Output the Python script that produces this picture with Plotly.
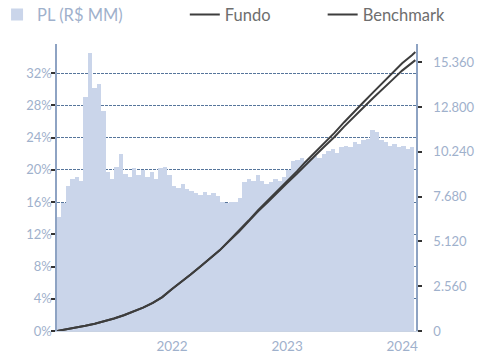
import pandas as pd
import plotly.graph_objects as go

# Patrimônio líquido (R$ MM), amostras quinzenais
pl_start = "2021-01-08"
pl_values = [
    6500, 7300, 8300, 8700, 8800, 8600, 13400, 15900, 13900, 14100,
    12600, 9100, 8700, 9400, 10100, 9000, 8800, 9300, 8900, 9200,
    8800, 9100, 8700, 9300, 9400, 8900, 8300, 8200, 8400, 8100,
    8000, 7900, 7800, 7950, 7800, 7900, 7700, 7400, 7300, 7350,
    7400, 7600, 8500, 8700, 8600, 8900, 8600, 8400, 8500, 8700,
    8600, 8800, 9200, 9700, 9800, 9900, 9700, 9900, 10000, 9900,
    10100, 10300, 10400, 10200, 10500, 10600, 10500, 10800, 10700, 10900,
    11000, 11500, 11400, 10900, 10800, 10600, 10700, 10500, 10600, 10400,
    10500,
]
pl_dates = pd.date_range(pl_start, periods=len(pl_values), freq="14D")

# Retorno acumulado (%) no início de cada mês, mais o último dia
ret_dates = list(pd.date_range("2021-01-01", "2024-02-01", freq="MS")) + [pd.Timestamp("2024-02-12")]
fundo = [
    0, 0.2, 0.4, 0.65, 0.9, 1.2, 1.55, 1.95, 2.4, 2.9, 3.5, 4.2,
    5.2, 6.1, 7.0, 8.0, 9.0, 10.0, 11.2, 12.4, 13.7, 15.0, 16.2, 17.4,
    18.6, 19.8, 21.0, 22.2, 23.4, 24.6, 25.9, 27.1, 28.4, 29.6, 30.8, 32.0,
    33.2, 34.2, 34.6,
]
benchmark = [
    0, 0.2, 0.4, 0.65, 0.9, 1.2, 1.55, 1.95, 2.4, 2.9, 3.5, 4.2,
    5.2, 6.1, 7.0, 8.0, 9.0, 10.0, 11.15, 12.3, 13.6, 14.85, 16.0, 17.2,
    18.35, 19.5, 20.65, 21.8, 22.95, 24.1, 25.35, 26.5, 27.75, 28.9, 30.0, 31.15,
    32.3, 33.25, 33.6,
]

pct_ticks = [0, 4, 8, 12, 16, 20, 24, 28, 32]
pct_labels = [f"{v}%" for v in pct_ticks]
pl_ticks = [0, 2560, 5120, 7680, 10240, 12800, 15360]
pl_labels = ["0", "2.560", "5.120", "7.680", "10.240", "12.800", "15.360"]
year_ticks = ["2022-01-01", "2023-01-01", "2024-01-01"]
year_labels = ["2022", "2023", "2024"]

FONT = "Lato"
LABEL_BLUE = "#9fb1cc"
AXIS_BLUE = "#8ea3c3"
BAR_BLUE = "#cad5ea"
LINE_GRAY = "#3d3d3d"

fig = go.Figure()
fig.add_trace(go.Bar(
    x=pl_dates, y=pl_values, yaxis="y",
    name=f"<span style='color:{LABEL_BLUE}'>PL (R$ MM)</span>",
    marker=dict(color=BAR_BLUE, line=dict(width=0)),
    legend="legend",
))
fig.add_trace(go.Scatter(
    x=ret_dates, y=fundo, yaxis="y2", mode="lines", name="Fundo",
    line=dict(color=LINE_GRAY, width=2), legend="legend2",
))
fig.add_trace(go.Scatter(
    x=ret_dates, y=benchmark, yaxis="y2", mode="lines", name="Benchmark",
    line=dict(color=LINE_GRAY, width=2), legend="legend3",
))

legend_common = dict(
    orientation="h", yanchor="top", xanchor="left", y=1.163,
    font=dict(family=FONT, size=16.5, color="#6e6e6e"),
    bgcolor="rgba(0,0,0,0)", itemwidth=30,
)

fig.update_layout(
    width=480, height=354,
    margin=dict(l=57, r=64, t=44, b=23, autoexpand=False),
    paper_bgcolor="white", plot_bgcolor="white",
    bargap=0,
    showlegend=True,
    legend=dict(x=-0.167, **legend_common),
    legend2=dict(x=0.356, **legend_common),
    legend3=dict(x=0.74, **legend_common),
    xaxis=dict(
        type="date", range=["2021-01-01", "2024-02-14"],
        tickvals=year_ticks, ticktext=year_labels,
        showgrid=False, showline=True, linecolor="#c9d3e3", linewidth=1,
        ticks="", ticklabelstandoff=3,
        tickfont=dict(family=FONT, size=13.5, color=LABEL_BLUE),
    ),
    yaxis=dict(
        side="right", range=[0, 16400],
        tickvals=pl_ticks, ticktext=pl_labels,
        showgrid=False, zeroline=False,
        showline=True, linecolor=AXIS_BLUE, linewidth=1.5,
        ticks="outside", ticklen=4, tickcolor="#333333", tickwidth=1.5,
        ticklabelstandoff=9,
        tickfont=dict(family=FONT, size=13, color=LABEL_BLUE),
    ),
    yaxis2=dict(
        overlaying="y", side="left", range=[0, 35.6],
        tickvals=pct_ticks, ticktext=pct_labels,
        showgrid=True, gridcolor="#56759b", gridwidth=1, griddash="3px,1px",
        zeroline=False,
        showline=True, linecolor=AXIS_BLUE, linewidth=1.5,
        ticks="outside", ticklen=4, tickcolor="#333333", tickwidth=1.5,
        ticklabelstandoff=-3,
        tickfont=dict(family=FONT, size=13, color=LABEL_BLUE),
    ),
)

fig.write_html("out.html")
